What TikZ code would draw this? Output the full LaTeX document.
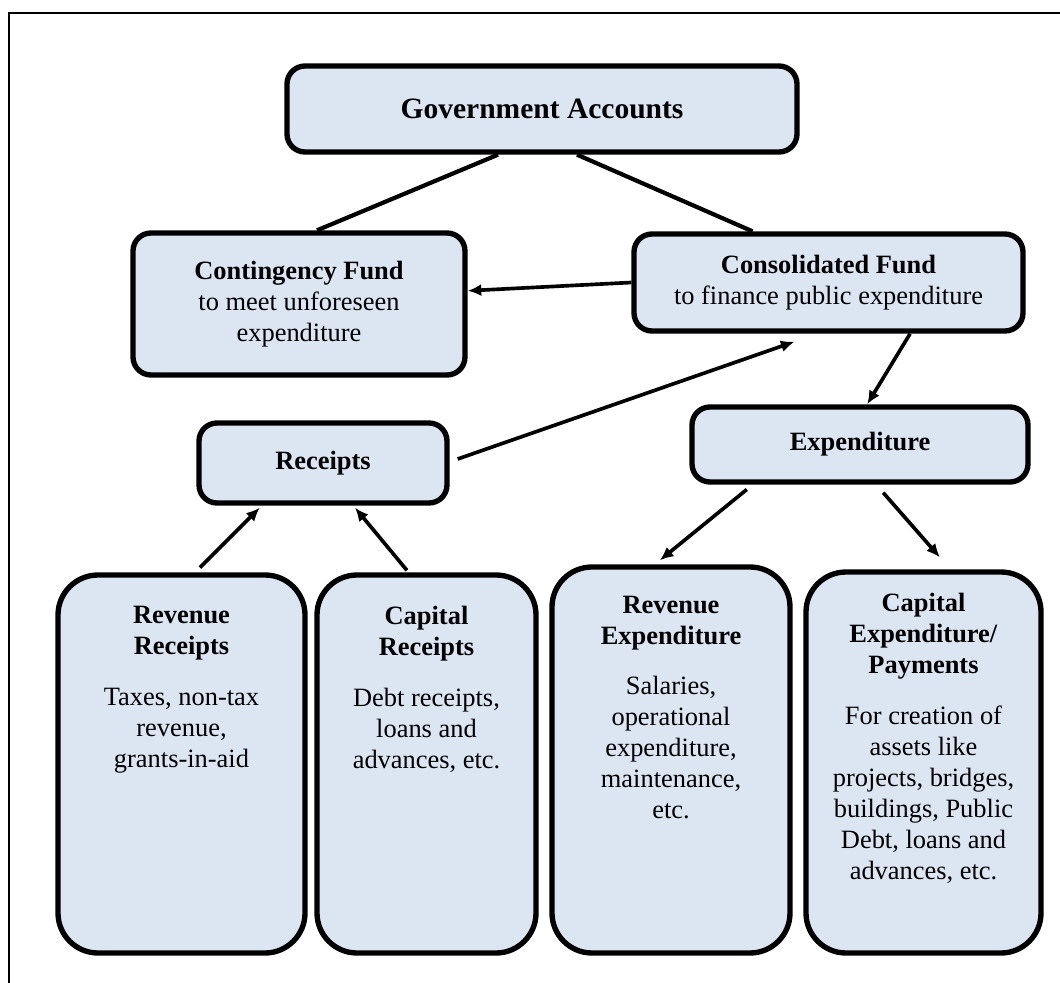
\documentclass[tikz,border=0pt]{standalone}
\usepackage{fontspec}
\setmainfont{Liberation Serif}
\usepackage{xcolor}
\usepackage{tikz}
\usetikzlibrary{calc, arrows.meta, positioning}

\definecolor{boxblue}{HTML}{DCE6F2}

\tikzset{
    fund/.style={rectangle, rounded corners=0.45cm, draw=black, line width=3.8pt, fill=boxblue, align=center, font=\fontsize{18.8}{22}\selectfont},
    tall/.style={rectangle, rounded corners=1cm, draw=black, line width=3.8pt, fill=boxblue},
    tallText/.style={align=center, inner sep=0pt, font=\fontsize{18.8}{22}\selectfont},
    link/.style={line width=3pt},
    flow/.style={line width=2.6pt, -{Latex[length=3.4mm,width=3mm]}},
    frame/.style={line width=1.6pt}
}

\begin{document}
\begin{tikzpicture}

        \useasboundingbox (0,0) rectangle (26.5,-24.575);
        \clip (0,0) rectangle (26.5,-24.575);

        %% Frame
        \draw [frame] (0.225,-0.325) rectangle (27,-25);

        %% Funds
        \node (gov) [fund, minimum width=12.75cm, minimum height=2.15cm, font=\fontsize{21}{25}\selectfont\bfseries] at (13.55,-2.725) {Government Accounts};
        \node (cont) [fund, minimum width=8.3cm, minimum height=3.55cm] at (7.475,-7.6) {\textbf{Contingency Fund}\\to meet unforeseen\\expenditure};
        \node (cons) [fund, minimum width=9.725cm, minimum height=2.425cm] at (20.7125,-7.0625) {\textbf{Consolidated Fund}\\to finance public expenditure};
        \node (rec) [fund, minimum width=6.2cm, minimum height=2cm] at (8.075,-11.575) {\textbf{Receipts}};
        \node (exp) [fund, minimum width=8.4cm, minimum height=1.875cm] at (21.5,-11.1125) {\textbf{Expenditure}};

        %% Tall boxes
        \node (revrec) [tall, minimum width=6.175cm, minimum height=9.45cm] at (4.5375,-19.1) {};
        \node (caprec) [tall, minimum width=5.475cm, minimum height=9.45cm] at (10.6625,-19.1) {};
        \node (revexp) [tall, minimum width=5.95cm, minimum height=9.65cm] at (16.775,-19.0) {};
        \node (capexp) [tall, minimum width=5.875cm, minimum height=9.525cm] at (23.0875,-19.0625) {};

        %% Texts of the tall boxes
        \node (revrecText) [tallText, below=0.85cm of revrec.north] {\textbf{Revenue}\\\textbf{Receipts}\\[0.5cm]Taxes, non-tax\\revenue,\\grants-in-aid};
        \node (caprecText) [tallText, below=0.85cm of caprec.north] {\textbf{Capital}\\\textbf{Receipts}\\[0.5cm]Debt receipts,\\loans and\\advances, etc.};
        \node (revexpText) [tallText, below=0.78cm of revexp.north] {\textbf{Revenue}\\\textbf{Expenditure}\\[0.5cm]Salaries,\\operational\\expenditure,\\maintenance,\\etc.};
        \node (capexpText) [tallText, below=0.6cm of capexp.north] {\textbf{Capital}\\\textbf{Expenditure/}\\\textbf{Payments}\\[0.5cm]For creation of\\assets like\\projects, bridges,\\buildings, Public\\Debt, loans and\\advances, etc.};

        %% Links
        \draw [link] ($(gov.south) + (-1.1,0)$) -- ($(cont.north) + (0.45,0)$);
        \draw [link] ($(gov.south) + (0.875,0)$) -- ($(cons.north) + (-1.9,0)$);

        %% Arrows
        \draw [flow] (cons.west) -- ($(cont.east) + (0,0.33)$);
        \draw [flow] ($(rec.east) + (0.2,0.1)$) -- ($(cons.south) + (-0.85,-0.2)$);
        \draw [flow] ($(cons.south) + (2.04,0)$) -- ($(exp.north) + (0.18,0)$);
        \draw [flow] ($(exp.south) + (-2.83,-0.12)$) -- ($(revexp.north) + (-0.28,0.1)$);
        \draw [flow] ($(exp.south) + (0.58,-0.2)$) -- ($(capexp.north) + (0.41,0.3)$);
        \draw [flow] ($(revrec.north) + (0.46,0.12)$) -- ($(rec.south) + (-1.58,-0.05)$);
        \draw [flow] ($(caprec.north) + (-0.49,0.05)$) -- ($(rec.south) + (0.8,-0.05)$);

\end{tikzpicture}
\end{document}
